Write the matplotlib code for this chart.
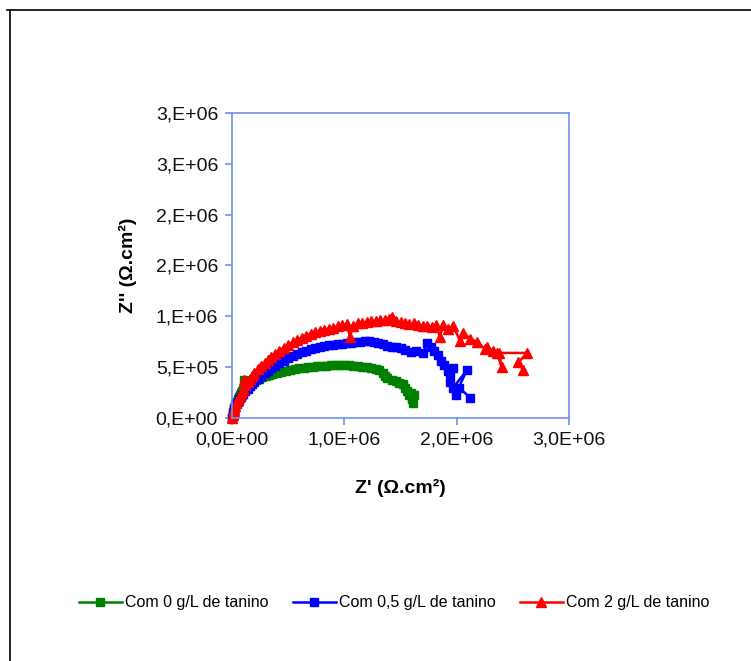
import matplotlib
matplotlib.use("Agg")
import matplotlib.pyplot as plt
from matplotlib.lines import Line2D

plt.rcParams['font.family'] = ['Liberation Sans', 'DejaVu Sans']

# Data (Z' and Z'' in 1e6 Ohm.cm2)
green_zr = [0.00, 0.005, 0.01, 0.015, 0.02, 0.03, 0.04, 0.05, 0.06, 0.07, 0.08, 0.09, 0.10, 0.11, 0.12,
            0.13, 0.15, 0.17, 0.19, 0.21, 0.24, 0.27, 0.30, 0.33, 0.36, 0.40, 0.44, 0.48, 0.52,
            0.56, 0.60, 0.64, 0.68, 0.72, 0.76, 0.80, 0.84, 0.88, 0.92, 0.96, 1.00, 1.04, 1.08,
            1.12, 1.16, 1.20, 1.24, 1.28, 1.31, 1.34, 1.36, 1.38, 1.42, 1.46, 1.49, 1.52, 1.54,
            1.56, 1.58, 1.60, 1.61, 1.60, 1.62, 1.59]
green_zi = [0.00, 0.03, 0.06, 0.08, 0.10, 0.13, 0.16, 0.19, 0.21, 0.23, 0.25, 0.27, 0.28, 0.37, 0.30,
            0.31, 0.33, 0.345, 0.36, 0.37, 0.385, 0.40, 0.41, 0.42, 0.43, 0.445, 0.455, 0.465, 0.475,
            0.48, 0.49, 0.495, 0.50, 0.505, 0.51, 0.513, 0.516, 0.52, 0.522, 0.522, 0.52, 0.518, 0.515,
            0.51, 0.505, 0.50, 0.49, 0.48, 0.47, 0.44, 0.41, 0.39, 0.375, 0.36, 0.345, 0.33, 0.30,
            0.27, 0.23, 0.19, 0.15, 0.20, 0.23, 0.25]

blue_zr = [0.00, 0.005, 0.01, 0.015, 0.02, 0.03, 0.04, 0.05, 0.06, 0.07, 0.08, 0.09, 0.10, 0.12, 0.14,
           0.16, 0.18, 0.20, 0.23, 0.26, 0.29, 0.32, 0.35, 0.38, 0.42, 0.46, 0.50, 0.54, 0.58,
           0.62, 0.66, 0.70, 0.74, 0.78, 0.82, 0.86, 0.90, 0.94, 0.98, 1.02, 1.06, 1.10, 1.14,
           1.18, 1.22, 1.26, 1.30, 1.34, 1.38, 1.42, 1.46, 1.50, 1.54, 1.59, 1.64, 1.70, 1.74,
           1.77, 1.80, 1.83, 1.86, 1.89, 1.92, 1.94, 1.97, 1.94, 1.97, 2.09, 1.99, 2.02, 2.12]
blue_zi = [0.00, 0.03, 0.05, 0.07, 0.09, 0.12, 0.14, 0.16, 0.18, 0.195, 0.21, 0.225, 0.24, 0.265, 0.29,
           0.31, 0.33, 0.35, 0.38, 0.41, 0.44, 0.465, 0.49, 0.51, 0.54, 0.565, 0.59, 0.61, 0.63,
           0.645, 0.66, 0.675, 0.69, 0.70, 0.71, 0.715, 0.72, 0.725, 0.73, 0.735, 0.74, 0.745, 0.75,
           0.755, 0.76, 0.75, 0.74, 0.725, 0.71, 0.70, 0.70, 0.69, 0.67, 0.65, 0.66, 0.64, 0.74,
           0.70, 0.66, 0.62, 0.56, 0.52, 0.46, 0.44, 0.49, 0.35, 0.30, 0.47, 0.23, 0.30, 0.20]

red_zr = [0.00, 0.005, 0.01, 0.015, 0.02, 0.03, 0.04, 0.05, 0.06, 0.07, 0.08, 0.09, 0.10, 0.11, 0.12,
          0.14, 0.16, 0.18, 0.20, 0.23, 0.26, 0.29, 0.32, 0.35, 0.38, 0.42, 0.46, 0.50, 0.54,
          0.58, 0.62, 0.66, 0.70, 0.74, 0.78, 0.82, 0.86, 0.90, 0.94, 0.98, 1.02, 1.05, 1.08,
          1.12, 1.16, 1.20, 1.24, 1.28, 1.32, 1.36, 1.40, 1.42, 1.46, 1.50, 1.54, 1.58, 1.62,
          1.66, 1.70, 1.74, 1.78, 1.82, 1.85, 1.88, 1.92, 1.97, 2.03, 2.06, 2.12, 2.18, 2.25,
          2.27, 2.32, 2.36, 2.40, 2.38, 2.63, 2.55, 2.59]
red_zi = [0.00, 0.03, 0.05, 0.07, 0.09, 0.12, 0.15, 0.18, 0.21, 0.23, 0.25, 0.27, 0.29, 0.37, 0.32,
          0.35, 0.38, 0.41, 0.44, 0.48, 0.51, 0.54, 0.57, 0.60, 0.63, 0.66, 0.69, 0.72, 0.745,
          0.77, 0.79, 0.81, 0.83, 0.845, 0.86, 0.87, 0.88, 0.89, 0.90, 0.91, 0.92, 0.80, 0.90,
          0.93, 0.935, 0.94, 0.95, 0.955, 0.96, 0.965, 0.97, 0.99, 0.95, 0.94, 0.93, 0.92, 0.93,
          0.91, 0.905, 0.90, 0.895, 0.91, 0.80, 0.91, 0.88, 0.90, 0.76, 0.84, 0.78, 0.75, 0.68,
          0.70, 0.66, 0.64, 0.50, 0.64, 0.64, 0.55, 0.47]

series_labels = ["Com 0 g/L de tanino", "Com 0,5 g/L de tanino", "Com 2 g/L de tanino"]

x_ticks = [0, 1e6, 2e6, 3e6]
x_tick_labels = ['0,0E+00', '1,0E+06', '2,0E+06', '3,0E+06']
y_ticks = [0, 5e5, 1e6, 1.5e6, 2e6, 2.5e6, 3e6]
y_tick_labels = ['0,E+00', '5,E+05', '1,E+06', '2,E+06', '2,E+06', '3,E+06', '3,E+06']

W, H = 751, 661
fig = plt.figure(figsize=(W / 100, H / 100), dpi=100)
ax = fig.add_axes([232 / W, 1 - 418 / H, (569 - 232) / W, (418 - 113) / H])

sc = 1e6
ax.plot([v * sc for v in green_zr], [v * sc for v in green_zi], color='#008000', marker='s',
        markersize=5.5, linewidth=1.8, label=series_labels[0], clip_on=False)
ax.plot([v * sc for v in blue_zr], [v * sc for v in blue_zi], color='#0000ff', marker='s',
        markersize=5.5, linewidth=1.8, label=series_labels[1], clip_on=False)
ax.plot([v * sc for v in red_zr], [v * sc for v in red_zi], color='#ff0000', marker='^',
        markersize=6.5, linewidth=1.8, label=series_labels[2], clip_on=False)

ax.set_xlim(0, 3e6)
ax.set_ylim(0, 3e6)
ax.set_xticks(x_ticks)
ax.set_xticklabels(x_tick_labels)
ax.set_yticks(y_ticks)
ax.set_yticklabels(y_tick_labels)

spine_color = '#7090f0'
for s in ax.spines.values():
    s.set_color(spine_color)
    s.set_linewidth(1.2)
ax.tick_params(axis='both', direction='out', length=5, width=1.2, color=spine_color,
               labelsize=14, labelcolor='#111111', pad=5)

ax.set_xlabel("Z' (Ω.cm²)", fontsize=14, fontweight='bold')
ax.set_ylabel("Z'' (Ω.cm²)", fontsize=14, fontweight='bold')
ax.xaxis.set_label_coords(0.5, (418 - 479) / 305)
ax.yaxis.set_label_coords((137 - 232) / 337, 0.5)

fig.legend(loc='center', bbox_to_anchor=(394 / W, 1 - 603 / H), ncol=3, frameon=False,
           fontsize=11.5, handlelength=2.7, columnspacing=1.5, handletextpad=0.2)

# outer frame lines (top and left)
fig.add_artist(Line2D([7 / W, 1], [1 - 10 / H, 1 - 10 / H], color='black', linewidth=1.2))
fig.add_artist(Line2D([10 / W, 10 / W], [0, 1 - 10 / H], color='black', linewidth=1.2))

fig.savefig('out.png', dpi=100)
